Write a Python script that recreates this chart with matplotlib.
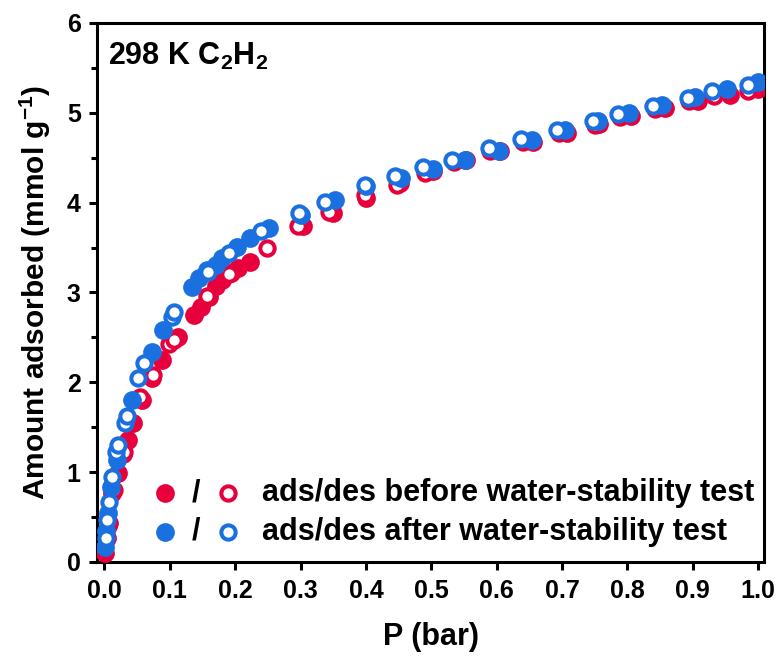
import matplotlib
matplotlib.use("Agg")
import matplotlib.pyplot as plt
from matplotlib.ticker import MultipleLocator

plt.rcParams['font.family'] = ['Liberation Sans', 'DejaVu Sans']
plt.rcParams['font.weight'] = 'bold'
plt.rcParams['mathtext.fontset'] = 'custom'
plt.rcParams['mathtext.rm'] = 'Liberation Sans:bold'
plt.rcParams['mathtext.bf'] = 'Liberation Sans:bold'
plt.rcParams['mathtext.default'] = 'bf'

# before water-stability test: adsorption (filled) / desorption (open)
p_ads_before = [0.001, 0.004, 0.007, 0.012, 0.020, 0.028, 0.036, 0.044, 0.058, 0.072, 0.088, 0.112,
                0.137, 0.147, 0.160, 0.170, 0.180, 0.193, 0.205, 0.223, 0.304, 0.350, 0.400, 0.452,
                0.503, 0.553, 0.605, 0.656, 0.707, 0.757, 0.806, 0.857, 0.908, 0.957, 1.000]
q_ads_before = [0.10, 0.27, 0.43, 0.77, 0.99, 1.20, 1.36, 1.55, 1.80, 2.05, 2.25, 2.50,
                2.75, 2.84, 2.95, 3.07, 3.14, 3.22, 3.27, 3.34, 3.74, 3.88, 4.05, 4.22,
                4.35, 4.47, 4.58, 4.68, 4.78, 4.88, 4.97, 5.05, 5.13, 5.20, 5.27]
p_des_before = [0.006, 0.015, 0.030, 0.055, 0.075, 0.098, 0.106, 0.157, 0.190, 0.249, 0.296,
                0.343, 0.398, 0.447, 0.490, 0.535, 0.590, 0.640, 0.695, 0.750, 0.788, 0.842,
                0.895, 0.932, 0.985]
q_des_before = [0.40, 0.80, 1.23, 1.84, 2.08, 2.43, 2.47, 2.96, 3.21, 3.50, 3.74,
                3.90, 4.09, 4.20, 4.33, 4.45, 4.57, 4.67, 4.78, 4.87, 4.95, 5.04,
                5.13, 5.19, 5.24]

# after water-stability test
p_ads_after = [0.001, 0.003, 0.006, 0.010, 0.019, 0.042, 0.073, 0.090, 0.134, 0.144, 0.157, 0.170,
               0.180, 0.203, 0.223, 0.251, 0.301, 0.353, 0.400, 0.453, 0.503, 0.552, 0.603, 0.654,
               0.705, 0.755, 0.802, 0.853, 0.904, 0.952, 1.000]
q_ads_after = [0.17, 0.35, 0.54, 0.84, 1.14, 1.80, 2.34, 2.58, 3.06, 3.16, 3.25, 3.31,
               3.38, 3.51, 3.61, 3.72, 3.86, 4.03, 4.19, 4.28, 4.38, 4.48, 4.58, 4.70,
               4.81, 4.91, 5.00, 5.09, 5.18, 5.26, 5.34]
p_des_after = [0.002, 0.004, 0.007, 0.012, 0.018, 0.020, 0.032, 0.035, 0.052, 0.060, 0.1035, 0.106,
               0.159, 0.190, 0.240, 0.297, 0.338, 0.399, 0.445, 0.488, 0.532, 0.588, 0.637, 0.693,
               0.748, 0.785, 0.839, 0.893, 0.929, 0.985]
q_des_after = [0.27, 0.47, 0.67, 0.95, 1.23, 1.30, 1.55, 1.62, 2.05, 2.21, 2.73, 2.78,
               3.23, 3.44, 3.68, 3.89, 4.01, 4.20, 4.30, 4.40, 4.48, 4.61, 4.71, 4.81,
               4.91, 4.99, 5.08, 5.17, 5.24, 5.31]

legend_labels = ["ads/des before water-stability test", "ads/des after water-stability test"]
x_ticks = [0.0, 0.1, 0.2, 0.3, 0.4, 0.5, 0.6, 0.7, 0.8, 0.9, 1.0]
y_ticks = [0, 1, 2, 3, 4, 5, 6]

RED = '#E8003D'
BLUE = '#1A70DE'

fig = plt.figure(figsize=(7.76, 6.57), dpi=100)
ax = fig.add_axes([0.1256, 0.1446, 0.8589, 0.8204])

ms_f, ms_o, mew_o = 13.5, 10.3, 2.9
ax.plot(p_ads_before, q_ads_before, 'o', ms=ms_f, color=RED, mec=RED, mew=0, zorder=3)
ax.plot(p_des_before, q_des_before, 'o', ms=ms_o, mfc='white', mec=RED, mew=mew_o, zorder=4)
ax.plot(p_ads_after, q_ads_after, 'o', ms=ms_f, color=BLUE, mec=BLUE, mew=0, zorder=5)
ax.plot(p_des_after, q_des_after, 'o', ms=ms_o, mfc='white', mec=BLUE, mew=mew_o, zorder=6)

ax.set_xlim(-0.0107, 1.009)
ax.set_ylim(0, 6)
ax.set_xticks(x_ticks)
ax.set_xticklabels([f"{v:.1f}" for v in x_ticks])
ax.set_yticks(y_ticks)
ax.yaxis.set_minor_locator(MultipleLocator(0.5))

for s in ax.spines.values():
    s.set_linewidth(2.2)
ax.tick_params(axis='both', which='major', direction='out', length=6, width=2.2,
               labelsize=18, pad=6)
ax.tick_params(axis='y', which='minor', direction='out', length=4, width=2.2)
for lab in ax.get_xticklabels() + ax.get_yticklabels():
    lab.set_fontweight('bold')

ax.set_xlabel('P (bar)', fontsize=22, fontweight='bold', labelpad=14)
ax.set_ylabel('Amount adsorbed (mmol g$^{-1}$)', fontsize=21.5, fontweight='bold', labelpad=10)

ax.text(0.016, 0.922, '298 K C$_2$H$_2$', transform=ax.transAxes, fontsize=22,
        fontweight='bold', va='baseline', ha='left')

# manual legend
rows_y = [0.128, 0.0557]
for yy, col, lab in zip(rows_y, [RED, BLUE], legend_labels):
    ax.plot([0.101], [yy], 'o', ms=ms_f, color=col, mew=0, transform=ax.transAxes, clip_on=False)
    ax.text(0.148, yy, '/', transform=ax.transAxes, fontsize=22, fontweight='bold',
            va='center', ha='center')
    ax.plot([0.196], [yy], 'o', ms=ms_o, mfc='white', mec=col, mew=mew_o,
            transform=ax.transAxes, clip_on=False)
    ax.text(0.247, yy, lab, transform=ax.transAxes, fontsize=22, fontweight='bold',
            va='center', ha='left')

fig.savefig('out.png', dpi=100)
